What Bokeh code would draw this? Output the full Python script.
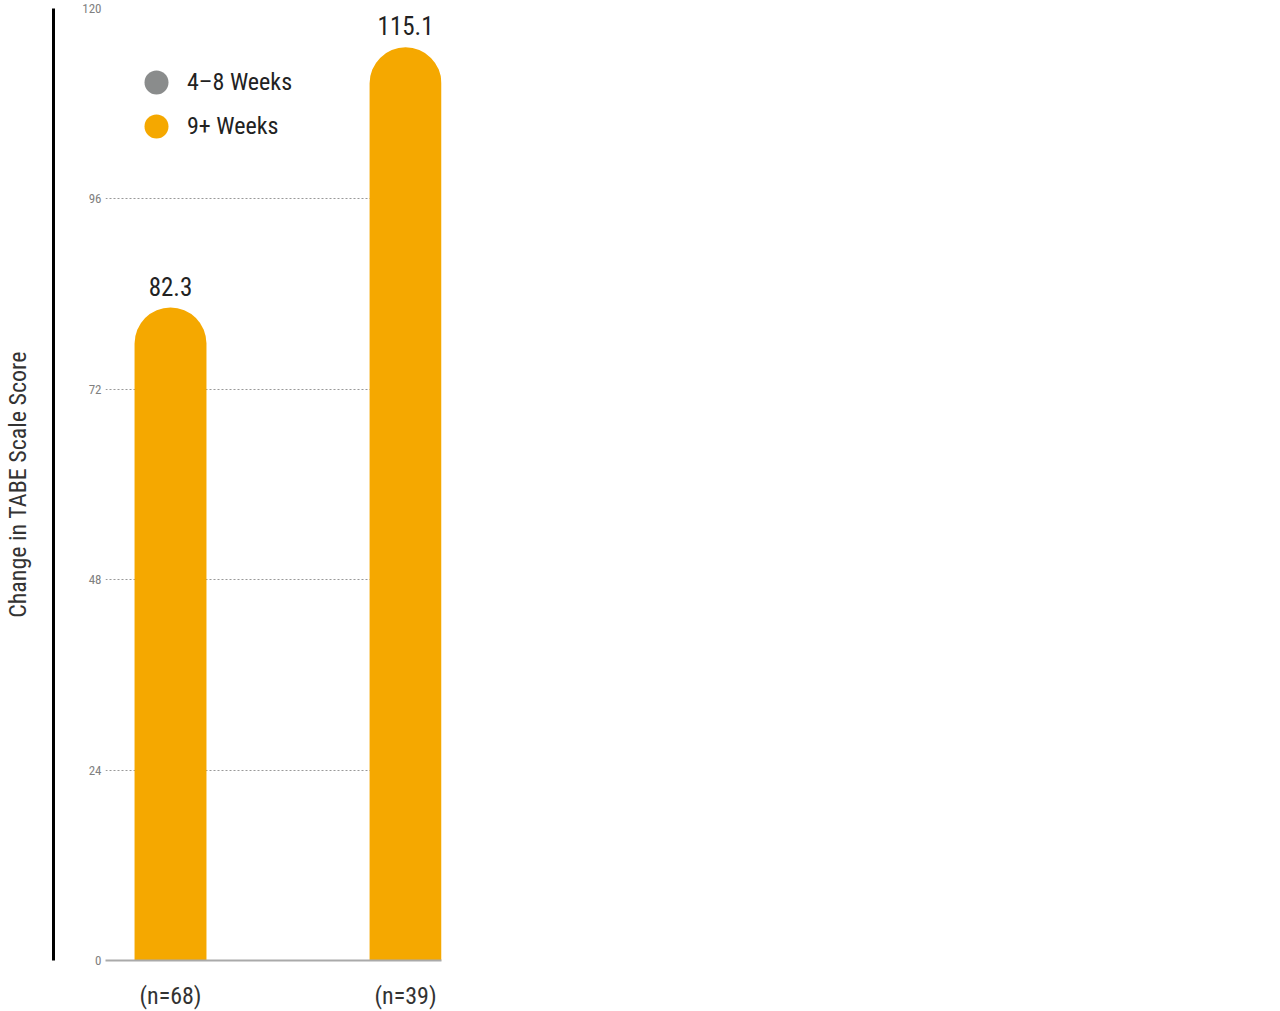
from bokeh.plotting import figure
from bokeh.models import (LinearAxis, FixedTicker, Legend, LegendItem,
                          ColumnDataSource, Range1d, LabelSet)
from bokeh.core.properties import value
from bokeh.embed import file_html
from bokeh.resources import INLINE

# ---- data ----
groups = ["(n=68)", "(n=39)"]
values = [82.3, 115.1]
value_labels = ["82.3", "115.1"]
series_names = ["4–8 Weeks", "9+ Weeks"]
series_colors = ["#8A8C8C", "#F5A800"]
y_ticks = [0, 24, 48, 72, 96, 120]
y_title = "Change in TABE Scale Score"

FONT = "Roboto Condensed"

x_pos = [1, 2]
src = ColumnDataSource(dict(x=x_pos, top=values, label=value_labels))

p = figure(frame_width=336, frame_height=952,
           x_range=Range1d(0.7234, 2.153), y_range=Range1d(0, 120),
           output_backend="svg", toolbar_location=None,
           min_border_left=0, min_border_top=8, min_border_right=10,
           min_border_bottom=0)
p.outline_line_color = None
p.background_fill_color = "white"

# bars with rounded tops
p.vbar(x="x", top="top", bottom=0, width=0.306, source=src,
       fill_color=series_colors[1], line_color=None,
       border_radius=(36, 36, 0, 0))

# value labels
labels = LabelSet(x="x", y="top", text="label", source=src,
                  text_align="center", text_baseline="alphabetic",
                  y_offset=12, text_font=value(FONT),
                  text_font_size=value("25px"),
                  text_color=value("#222222"))
p.add_layout(labels)

# y axis (tick labels)
yt = FixedTicker(ticks=y_ticks)
ya = p.yaxis[0]
ya.ticker = yt
ya.axis_line_color = None
ya.major_tick_line_color = None
ya.minor_tick_line_color = None
ya.major_label_text_font = FONT
ya.major_label_text_font_size = "13px"
ya.major_label_text_color = "#808080"
ya.major_label_standoff = -2
ya.axis_label = " "
ya.axis_label_text_font_size = "12px"
ya.axis_label_standoff = 9

p.ygrid.ticker = yt
p.ygrid.grid_line_color = "#999999"
p.ygrid.grid_line_dash = "2 2"
p.ygrid.grid_line_width = 1
p.xgrid.visible = False

# outer axis: black line + title
outer = LinearAxis(ticker=FixedTicker(ticks=[]), axis_label=y_title,
                   axis_line_color="black", axis_line_width=3,
                   major_tick_line_color=None, minor_tick_line_color=None,
                   major_label_text_font_size="0px",
                   axis_label_standoff=22, axis_label_text_font=FONT,
                   axis_label_text_font_size="24px",
                   axis_label_text_color="#333333",
                   axis_label_text_font_style="normal")
p.add_layout(outer, "left")

# x axis
xa = p.xaxis[0]
xa.ticker = FixedTicker(ticks=x_pos)
xa.major_label_overrides = {x_pos[0]: groups[0], x_pos[1]: groups[1]}
xa.axis_line_color = "#aaaaaa"
xa.axis_line_width = 2
xa.major_tick_line_color = None
xa.minor_tick_line_color = None
xa.major_label_text_font = FONT
xa.major_label_text_font_size = "24px"
xa.major_label_text_color = "#333333"
xa.major_label_standoff = 15

# legend (one legend per item so the circles can be large)
legend_y = [848, 804]
for name, col, ly in zip(series_names, series_colors, legend_y):
    r = p.scatter(x="x", y="top", source=src, marker="circle",
                  fill_color=col, line_color=None, visible=False)
    leg = Legend(items=[LegendItem(label=name, renderers=[r])],
                 location=(21, ly), glyph_width=60, glyph_height=60,
                 padding=0, margin=0, border_line_color=None,
                 background_fill_alpha=0, label_text_font=FONT,
                 label_text_font_size="24px", label_text_color="#222222",
                 label_standoff=1)
    p.add_layout(leg, "center")

open("out.html", "w").write(file_html(p, INLINE))
